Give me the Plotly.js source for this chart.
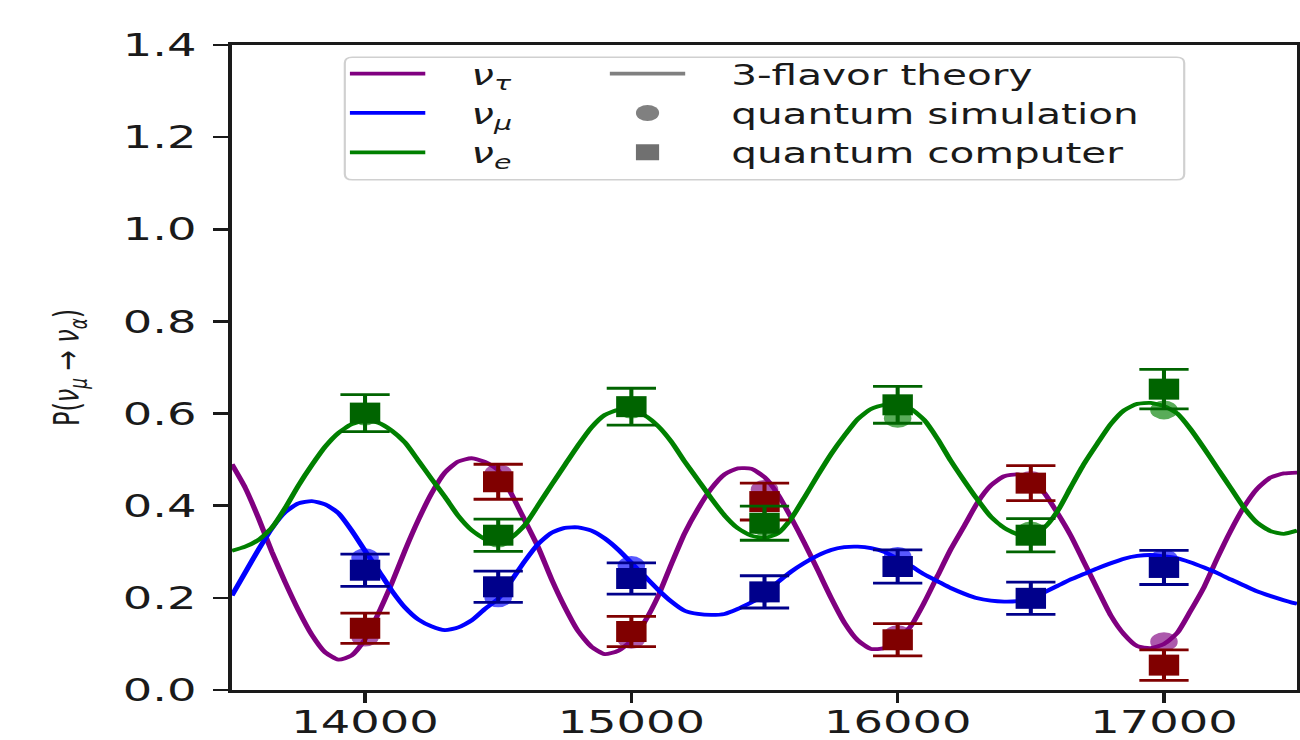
<!DOCTYPE html>
<html>
<head>
<meta charset="utf-8">
<script src="https://cdn.plot.ly/plotly-3.0.1.min.js"></script>
<style>
  html, body { margin: 0; padding: 0; background: #ffffff; overflow: hidden; }
  #wrap { width: 1300px; height: 740px; overflow: hidden; }
  #chart { width: 897px; height: 740px; transform: scaleX(1.4493); transform-origin: 0 0; }
</style>
</head>
<body>
<div id="wrap"><div id="chart"></div></div>
<script>
// ---- theory curves, energy grid ----
const energy = [
  13500,13550,13600,13650,13700,13750,13800,13850,13900,13950,
  14000,14050,14100,14150,14200,14250,14300,14350,14400,14450,
  14500,14550,14600,14650,14700,14750,14800,14850,14900,14950,
  15000,15050,15100,15150,15200,15250,15300,15350,15400,15450,
  15500,15550,15600,15650,15700,15750,15800,15850,15900,15950,
  16000,16050,16100,16150,16200,16250,16300,16350,16400,16450,
  16500,16550,16600,16650,16700,16750,16800,16850,16900,16950,
  17000,17050,17100,17150,17200,17250,17300,17350,17400,17450,
  17500
];
const probTau = [
  0.490,0.439,0.373,0.300,0.234,0.173,0.120,0.082,0.066,0.075,
  0.110,0.166,0.231,0.303,0.369,0.427,0.472,0.496,0.503,0.495,
  0.477,0.425,0.368,0.310,0.241,0.180,0.128,0.094,0.078,0.085,
  0.107,0.148,0.203,0.273,0.340,0.393,0.437,0.468,0.481,0.480,
  0.462,0.425,0.374,0.319,0.260,0.200,0.146,0.108,0.089,0.091,
  0.108,0.139,0.190,0.248,0.306,0.356,0.407,0.444,0.464,0.468,
  0.456,0.428,0.384,0.335,0.277,0.219,0.162,0.121,0.095,0.091,
  0.100,0.124,0.172,0.223,0.286,0.345,0.397,0.437,0.461,0.470,
  0.472
];
const probMu = [
  0.205,0.255,0.305,0.351,0.386,0.405,0.410,0.403,0.384,0.346,
  0.302,0.260,0.216,0.179,0.153,0.138,0.130,0.136,0.151,0.176,
  0.198,0.238,0.280,0.317,0.341,0.352,0.353,0.346,0.329,0.305,
  0.276,0.247,0.218,0.192,0.172,0.165,0.163,0.165,0.176,0.190,
  0.205,0.234,0.257,0.276,0.292,0.304,0.310,0.311,0.308,0.300,
  0.285,0.269,0.251,0.236,0.221,0.209,0.199,0.194,0.192,0.193,
  0.198,0.212,0.226,0.240,0.252,0.264,0.275,0.285,0.291,0.293,
  0.290,0.286,0.277,0.266,0.254,0.240,0.227,0.214,0.204,0.195,
  0.187
];
const probE = [
  0.302,0.311,0.326,0.352,0.395,0.444,0.488,0.528,0.558,0.577,
  0.585,0.580,0.563,0.537,0.498,0.458,0.419,0.378,0.347,0.328,
  0.322,0.331,0.358,0.401,0.445,0.488,0.531,0.570,0.597,0.608,
  0.608,0.596,0.573,0.539,0.496,0.456,0.416,0.379,0.351,0.335,
  0.330,0.340,0.372,0.418,0.466,0.512,0.552,0.588,0.610,0.619,
  0.620,0.610,0.586,0.545,0.497,0.454,0.413,0.376,0.352,0.338,
  0.336,0.352,0.388,0.440,0.491,0.535,0.577,0.607,0.621,0.623,
  0.616,0.600,0.566,0.525,0.482,0.439,0.396,0.363,0.345,0.339,
  0.346
];

// ---- measured points ----
const pointEnergy = [14000, 14500, 15000, 15500, 16000, 16500, 17000];
// quantum simulation (circles)
const simTau = [0.115, 0.470, 0.110, 0.435, 0.120, 0.455, 0.105];
const simMu  = [0.287, 0.200, 0.270, 0.210, 0.290, 0.200, 0.285];
const simE   = [0.595, 0.330, 0.610, 0.355, 0.590, 0.345, 0.608];
// quantum computer (squares with error bars)
const qcTau = [0.134, 0.452, 0.127, 0.409, 0.109, 0.449, 0.054];
const qcMu  = [0.260, 0.224, 0.242, 0.213, 0.268, 0.199, 0.266];
const qcE   = [0.601, 0.336, 0.615, 0.362, 0.619, 0.336, 0.653];
const errTau = [0.033, 0.038, 0.033, 0.040, 0.035, 0.038, 0.033];
const errMu  = [0.035, 0.034, 0.034, 0.035, 0.036, 0.035, 0.037];
const errE   = [0.040, 0.035, 0.040, 0.037, 0.040, 0.036, 0.043];

// ---- labels ----
const tickValsX = [14000, 15000, 16000, 17000];
const tickValsY = [0, 0.2, 0.4, 0.6, 0.8, 1.0, 1.2, 1.4];
const PAD = '\u00a0\u00a0\u00a0';
const nameTau = PAD + '<i>ν</i><sub><i>τ</i></sub>';
const nameMu = PAD + '<i>ν</i><sub><i>μ</i></sub>';
const nameE = PAD + '<i>ν</i><sub><i>e</i></sub>';
const nameTheory = PAD + '3-flavor theory';
const nameSim = PAD + 'quantum simulation';
const nameQC = PAD + 'quantum computer';
const yTitle = 'P(<i>ν</i><sub><i>μ</i></sub> → <i>ν</i><sub><i>α</i></sub>)';

const FONT = 'DejaVu Sans, sans-serif';
const lineW = 3.8;

function curve(y, color, name) {
  return { x: energy, y: y, type: 'scatter', mode: 'lines', name: name, legend: 'legend',
    line: { color: color, width: lineW, shape: 'spline', smoothing: 0.6 }, hoverinfo: 'skip' };
}
function sim(y, color) {
  return { x: pointEnergy, y: y, type: 'scatter', mode: 'markers', showlegend: false,
    marker: { symbol: 'circle', size: 19, color: color, opacity: 0.65 }, hoverinfo: 'skip' };
}
function qc(y, err, color) {
  return { x: pointEnergy, y: y, type: 'scatter', mode: 'markers', showlegend: false,
    marker: { symbol: 'square', size: 21, color: color },
    error_y: { type: 'data', array: err, visible: true, color: color, thickness: 2.8, width: 17 },
    hoverinfo: 'skip' };
}

const traces = [
  curve(probTau, 'purple', nameTau),
  curve(probMu, 'blue', nameMu),
  curve(probE, 'green', nameE),
  sim(simTau, 'purple'), sim(simMu, 'blue'), sim(simE, 'green'),
  qc(qcTau, errTau, '#800000'), qc(qcMu, errMu, '#00008b'), qc(qcE, errE, '#006400'),
  { x: [null], y: [null], type: 'scatter', mode: 'lines', name: nameTheory, legend: 'legend2',
    line: { color: '#808080', width: lineW } },
  { x: [null], y: [null], type: 'scatter', mode: 'markers', name: nameSim, legend: 'legend2',
    marker: { symbol: 'circle', size: 16, color: '#808080' } },
  { x: [null], y: [null], type: 'scatter', mode: 'markers', name: nameQC, legend: 'legend2',
    marker: { symbol: 'square', size: 16, color: '#707070' } }
];

const axisCommon = {
  showline: true, linecolor: '#1a1a1a', linewidth: 3, mirror: true,
  ticks: 'outside', ticklen: 10, tickwidth: 2.5, tickcolor: '#1a1a1a',
  showgrid: false, zeroline: false,
  tickfont: { family: FONT, size: 32, color: '#1a1a1a' }
};

const legendCommon = {
  orientation: 'v', xanchor: 'left', yanchor: 'top',
  bgcolor: 'rgba(0,0,0,0)', borderwidth: 0,
  font: { family: FONT, size: 28, color: '#1a1a1a' },
  itemwidth: 52, traceorder: 'normal'
};

// rounded legend frame (paper coordinates)
const bx0 = 0.106, bx1 = 0.894, by0 = 0.791, by1 = 0.981, rx = 0.007, ry = 0.009;
const framePath = 'M' + (bx0 + rx) + ',' + by1 + ' L' + (bx1 - rx) + ',' + by1 +
  ' Q' + bx1 + ',' + by1 + ' ' + bx1 + ',' + (by1 - ry) + ' L' + bx1 + ',' + (by0 + ry) +
  ' Q' + bx1 + ',' + by0 + ' ' + (bx1 - rx) + ',' + by0 + ' L' + (bx0 + rx) + ',' + by0 +
  ' Q' + bx0 + ',' + by0 + ' ' + bx0 + ',' + (by0 + ry) + ' L' + bx0 + ',' + (by1 - ry) +
  ' Q' + bx0 + ',' + by1 + ' ' + (bx0 + rx) + ',' + by1 + ' Z';

const layout = {
  width: 897, height: 740,
  margin: { l: 160, r: 2, t: 45, b: 50 },
  paper_bgcolor: '#ffffff', plot_bgcolor: '#ffffff',
  font: { family: FONT, color: '#1a1a1a' },
  xaxis: Object.assign({}, axisCommon, {
    range: [13500, 17500], tickvals: tickValsX, ticktext: tickValsX.map(String),
    ticklabelstandoff: -8
  }),
  yaxis: Object.assign({}, axisCommon, {
    range: [0, 1.4], tickvals: tickValsY, tickformat: '.1f', ticklabelstandoff: 5,
    title: { text: yTitle, font: { family: FONT, size: 24, color: '#1a1a1a' }, standoff: 23 }
  }),
  showlegend: true,
  legend: Object.assign({}, legendCommon, { x: 0.104, y: 0.994 }),
  legend2: Object.assign({}, legendCommon, { x: 0.348, y: 0.994 }),
  shapes: [{
    type: 'path', xref: 'paper', yref: 'paper', path: framePath, layer: 'above',
    line: { color: '#d0d0d0', width: 1.5 }, fillcolor: 'rgba(255,255,255,0.85)'
  }]
};

Plotly.newPlot('chart', traces, layout, { displayModeBar: false, staticPlot: true });
</script>
</body>
</html>
